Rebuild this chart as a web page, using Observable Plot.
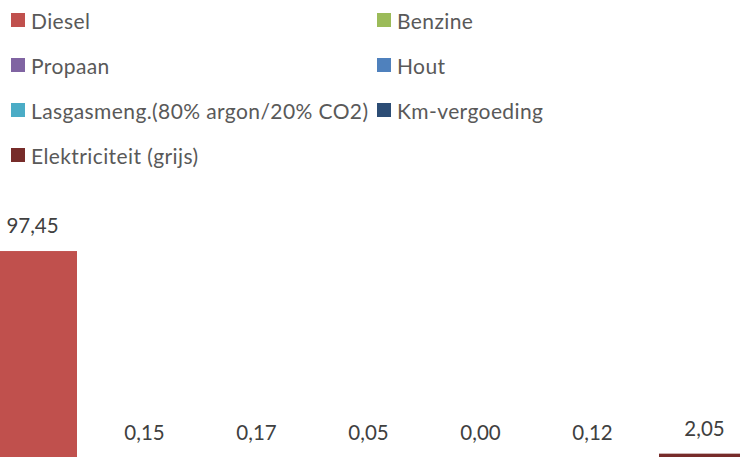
<!DOCTYPE html>
<html>
<head>
<meta charset="utf-8">
<script src="https://cdn.jsdelivr.net/npm/d3@7"></script>
<script src="https://cdn.jsdelivr.net/npm/@observablehq/plot@0.6"></script>
<style>
  html, body { margin: 0; padding: 0; background: #fff; overflow: hidden; width: 740px; height: 457px; }
  #legend { position: relative; height: 180px; font-family: Lato, sans-serif; font-size: 21px; letter-spacing: 0.4px; color: #595959; }
  .item { position: absolute; display: flex; align-items: center; height: 24px; white-space: nowrap; }
  .sw { width: 14px; height: 14px; margin-right: 6px; flex: none; }
  #chart svg { display: block; overflow: visible; }
</style>
</head>
<body>
<div id="legend"></div>
<div id="chart"></div>
<script>
const categories = ["Diesel", "Benzine", "Propaan", "Hout", "Lasgasmeng.(80% argon/20% CO2)", "Km-vergoeding", "Elektriciteit (grijs)"];
const values = [97.45, 0.15, 0.17, 0.05, 0.00, 0.12, 2.05];
const colors = ["#C0504D", "#9BBB59", "#8064A2", "#4F81BD", "#4BACC6", "#2C4D75", "#772C2A"];

const data = categories.map((c, i) => ({name: c, value: values[i]}));

// Legend: two columns, row-major
const legend = d3.select("#legend");
categories.forEach((c, i) => {
  const col = i % 2, row = Math.floor(i / 2);
  const it = legend.append("div").attr("class", "item")
    .style("left", (col === 0 ? 11 : 377) + "px")
    .style("top", (8 + row * 45) + "px");
  it.append("div").attr("class", "sw").style("background", colors[i]);
  it.append("span").text(c);
});

const fmt = v => v.toFixed(2).replace(".", ",");

const chart = Plot.plot({
  width: 740,
  height: 277,
  marginTop: 0, marginBottom: -1, marginLeft: 0, marginRight: 0,
  x: {domain: categories, range: [-37.5, 772.5], padding: 0.2, axis: null},
  y: {domain: [0, 130.9], axis: null},
  color: {domain: categories, range: colors},
  style: {fontFamily: "Lato, sans-serif", background: "transparent"},
  marks: [
    Plot.barY(data, {x: "name", y: "value", fill: "name"}),
    Plot.text(data, {x: "name", y: "value", text: d => fmt(d.value), dy: -25, fill: "#404040", fontSize: 20.5})
  ]
});
document.getElementById("chart").appendChild(chart);
</script>
</body>
</html>
